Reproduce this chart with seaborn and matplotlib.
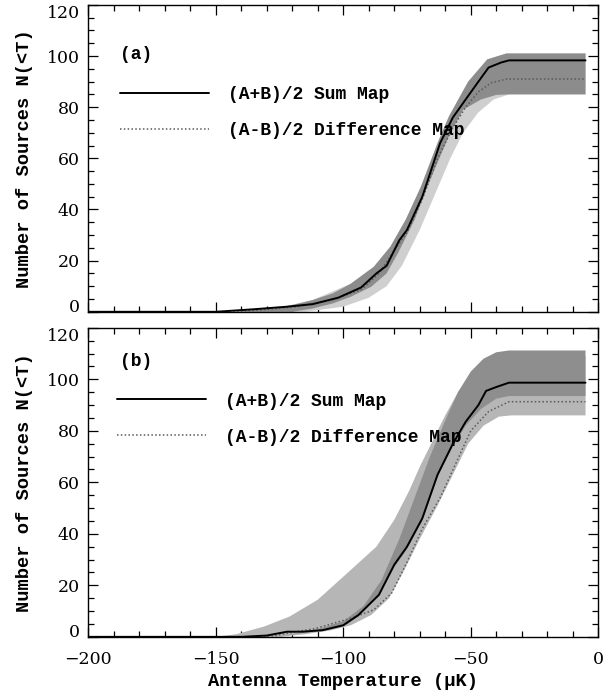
import matplotlib
matplotlib.use("Agg")
import matplotlib.pyplot as plt
import numpy as np
import pandas as pd
import seaborn as sns
from matplotlib.ticker import MultipleLocator

# ---- panel (a) ----
a_sum_x = [-200, -150, -135, -122, -112, -102, -93, -87, -83, -78, -75, -69, -62, -57, -52, -47, -43, -38, -35, -5]
a_sum_y = [0, 0, 1, 2, 3, 5.5, 9.5, 15, 18, 28, 32, 45, 66, 76, 83, 90, 95.5, 97.5, 98.3, 98.3]
a_diff_x = [-200, -150, -135, -118, -105, -93, -86, -80, -75, -69, -63, -57, -52, -47, -42, -36, -5]
a_diff_y = [0, 0, 0.5, 2, 4.5, 8.6, 15, 24, 31, 44, 60, 72, 80, 86, 89.5, 91, 91]
# sum-map band
a_band_up_x = [-143, -127, -120, -112, -104, -97, -88, -81.5, -75.5, -69.5, -63, -58.5, -51, -43.5, -36, -5]
a_band_up_y = [0, 1.3, 2.6, 4.6, 7.2, 11, 17.6, 25.5, 36, 49, 66, 76.5, 90, 98.7, 101, 101]
a_band_lo_x = [-120, -112, -104, -97, -89, -83, -78.5, -72, -67, -62, -58, -53, -46, -40, -35, -5]
a_band_lo_y = [0, 1.3, 3.3, 5.9, 9.8, 15, 23, 36, 49, 60.7, 70, 79, 83, 84.8, 85, 85]
# difference-map band
a_dband_up_x = [-143, -127, -112, -97, -88, -81.5, -75.5, -69.5, -63, -58.5, -51, -43.5, -36, -5]
a_dband_up_y = [0, 1.3, 4.6, 11, 17.6, 25.5, 36, 49, 66, 76.5, 90, 98.7, 101, 101]
a_dband_lo_x = [-115, -100, -90, -83, -77, -70, -64, -58, -53, -47, -41, -35, -5]
a_dband_lo_y = [0, 2, 5.5, 10, 18, 32, 46, 60, 70, 78, 83, 85, 85]

# ---- panel (b) ----
b_sum_x = [-200, -140, -130, -122, -116, -108, -100, -94, -86, -80, -75, -69, -63, -57, -52, -47, -44, -40, -35, -5]
b_sum_y = [0, 0, 0.5, 2, 2, 2.6, 4.5, 8.5, 16.3, 28, 35, 46, 63, 75, 83.5, 90, 95.5, 97, 98.7, 98.7]
b_diff_x = [-200, -130, -126, -119, -111, -104, -96, -88, -81, -75, -69, -62, -56, -50, -43, -35, -5]
b_diff_y = [0, 0, 0.6, 1.9, 3.2, 5.2, 7.5, 10.5, 17, 29, 42, 54, 67, 80, 87.5, 91.3, 91.3]
# sum-map band
b_band_up_x = [-125, -110, -100, -92, -85, -78, -72, -66, -60, -55, -50, -45, -40, -35, -5]
b_band_up_y = [0, 3, 6, 12, 22, 38, 54, 70, 84, 95, 103, 108, 110.5, 111.2, 111.2]
b_band_lo_x = [-125, -116, -108, -100, -94, -86, -80, -75, -69, -63, -57, -52, -46, -40, -35, -5]
b_band_lo_y = [0, 1.5, 2.2, 4, 8, 16, 27, 34, 45, 62, 74, 82, 88.5, 92.5, 93.5, 93.5]
# difference-map band
b_dband_up_x = [-150, -142, -131, -121, -110, -97, -87, -80, -74, -70, -65, -60, -55, -50, -45, -40, -35, -5]
b_dband_up_y = [0, 1, 4, 7.9, 14.4, 26, 35, 45.4, 57, 66, 76, 86, 95, 102, 107, 109, 109, 109]
b_dband_lo_x = [-125, -115, -105, -97, -89, -82, -76, -70, -63, -57, -51, -45, -39, -34, -5]
b_dband_lo_y = [0, 1, 2.5, 4.5, 8.5, 15, 26, 38, 51, 63, 75, 82, 85.5, 86, 86]

sum_label = "(A+B)/2 Sum Map"
diff_label = "(A-B)/2 Difference Map"

sns.set_style("white")
plt.rcParams.update({"text.color": "black", "axes.labelcolor": "black",
                     "xtick.color": "black", "ytick.color": "black"})
mono = "Liberation Mono"
tick_font = "DejaVu Serif"


def band(ax, ux, uy, lx, ly, color):
    # polygon: upper edge left->right, lower edge right->left
    px = np.concatenate([ux, lx[::-1]])
    py = np.concatenate([uy, ly[::-1]])
    ax.fill(px, py, color=color, lw=0, zorder=1)


def panel(ax, tag, sx, sy, dx, dy, bands, tag_y, leg_anchor):
    for ux, uy, lx, ly, c in bands:
        band(ax, ux, uy, lx, ly, c)
    df_s = pd.DataFrame({"T": sx, "N": sy})
    df_d = pd.DataFrame({"T": dx, "N": dy})
    sns.lineplot(data=df_d, x="T", y="N", ax=ax, color="#5a5a5a", lw=1.1,
                 linestyle=(0, (1, 1.5)), estimator=None, label=diff_label, zorder=3)
    sns.lineplot(data=df_s, x="T", y="N", ax=ax, color="black", lw=1.4,
                 estimator=None, label=sum_label, zorder=4)
    handles, labels = ax.get_legend_handles_labels()
    ax.legend(handles[::-1], labels[::-1], loc="upper left", bbox_to_anchor=leg_anchor,
              frameon=False, handlelength=4.9, handletextpad=1.05, labelspacing=1.05,
              borderpad=0, borderaxespad=0,
              prop={"family": mono, "size": 13, "weight": "bold"})
    ax.text(-187.5, tag_y, tag, family=mono, fontsize=13, weight="bold", ha="left", va="center")
    ax.set_xlim(-200, 0)
    ax.set_ylim(0, 120)
    ax.set_xticks(np.arange(-200, 1, 50))
    ax.set_yticks(np.arange(0, 121, 20))
    ax.xaxis.set_minor_locator(MultipleLocator(10))
    ax.yaxis.set_minor_locator(MultipleLocator(5))
    ax.tick_params(which="both", direction="in", top=True, right=True, bottom=True, left=True,
                   width=0.9, labelsize=12.5, color="black")
    ax.tick_params(which="major", length=7)
    ax.tick_params(which="minor", length=4)
    ax.tick_params(axis="x", pad=10)
    ax.tick_params(axis="y", pad=6)
    for lab in ax.get_xticklabels() + ax.get_yticklabels():
        lab.set_family(tick_font)
    yt = ax.yaxis.get_major_ticks()
    yt[0].label1.set_verticalalignment("baseline")
    yt[-1].label1.set_verticalalignment("top")
    for s in ax.spines.values():
        s.set_linewidth(1.0)
        s.set_color("black")
    ax.set_ylabel("Number of Sources N(<T)", family=mono, fontsize=13.5, weight="bold",
                  labelpad=10)
    ax.set_xlabel("")


fig = plt.figure(figsize=(6.08, 6.96), dpi=100)
ax_a = fig.add_axes([0.145, 0.552, 0.839, 0.441])
ax_b = fig.add_axes([0.145, 0.085, 0.839, 0.444])

panel(ax_a, "(a)", a_sum_x, a_sum_y, a_diff_x, a_diff_y,
      [(a_dband_up_x, a_dband_up_y, a_dband_lo_x, a_dband_lo_y, "#cfcfcf"),
       (a_band_up_x, a_band_up_y, a_band_lo_x, a_band_lo_y, "#8c8c8c")],
      100.5, (0.063, 0.735))
panel(ax_b, "(b)", b_sum_x, b_sum_y, b_diff_x, b_diff_y,
      [(b_dband_up_x, b_dband_up_y, b_dband_lo_x, b_dband_lo_y, "#b6b6b6"),
       (b_band_up_x, b_band_up_y, b_band_lo_x, b_band_lo_y, "#8e8e8e")],
      106.9, (0.057, 0.79))
ax_a.tick_params(labelbottom=False)
ax_b.set_xlabel("Antenna Temperature (\u03bcK)", family=mono, fontsize=13.5, weight="bold",
                labelpad=4)

fig.savefig("out.png", dpi=100)
